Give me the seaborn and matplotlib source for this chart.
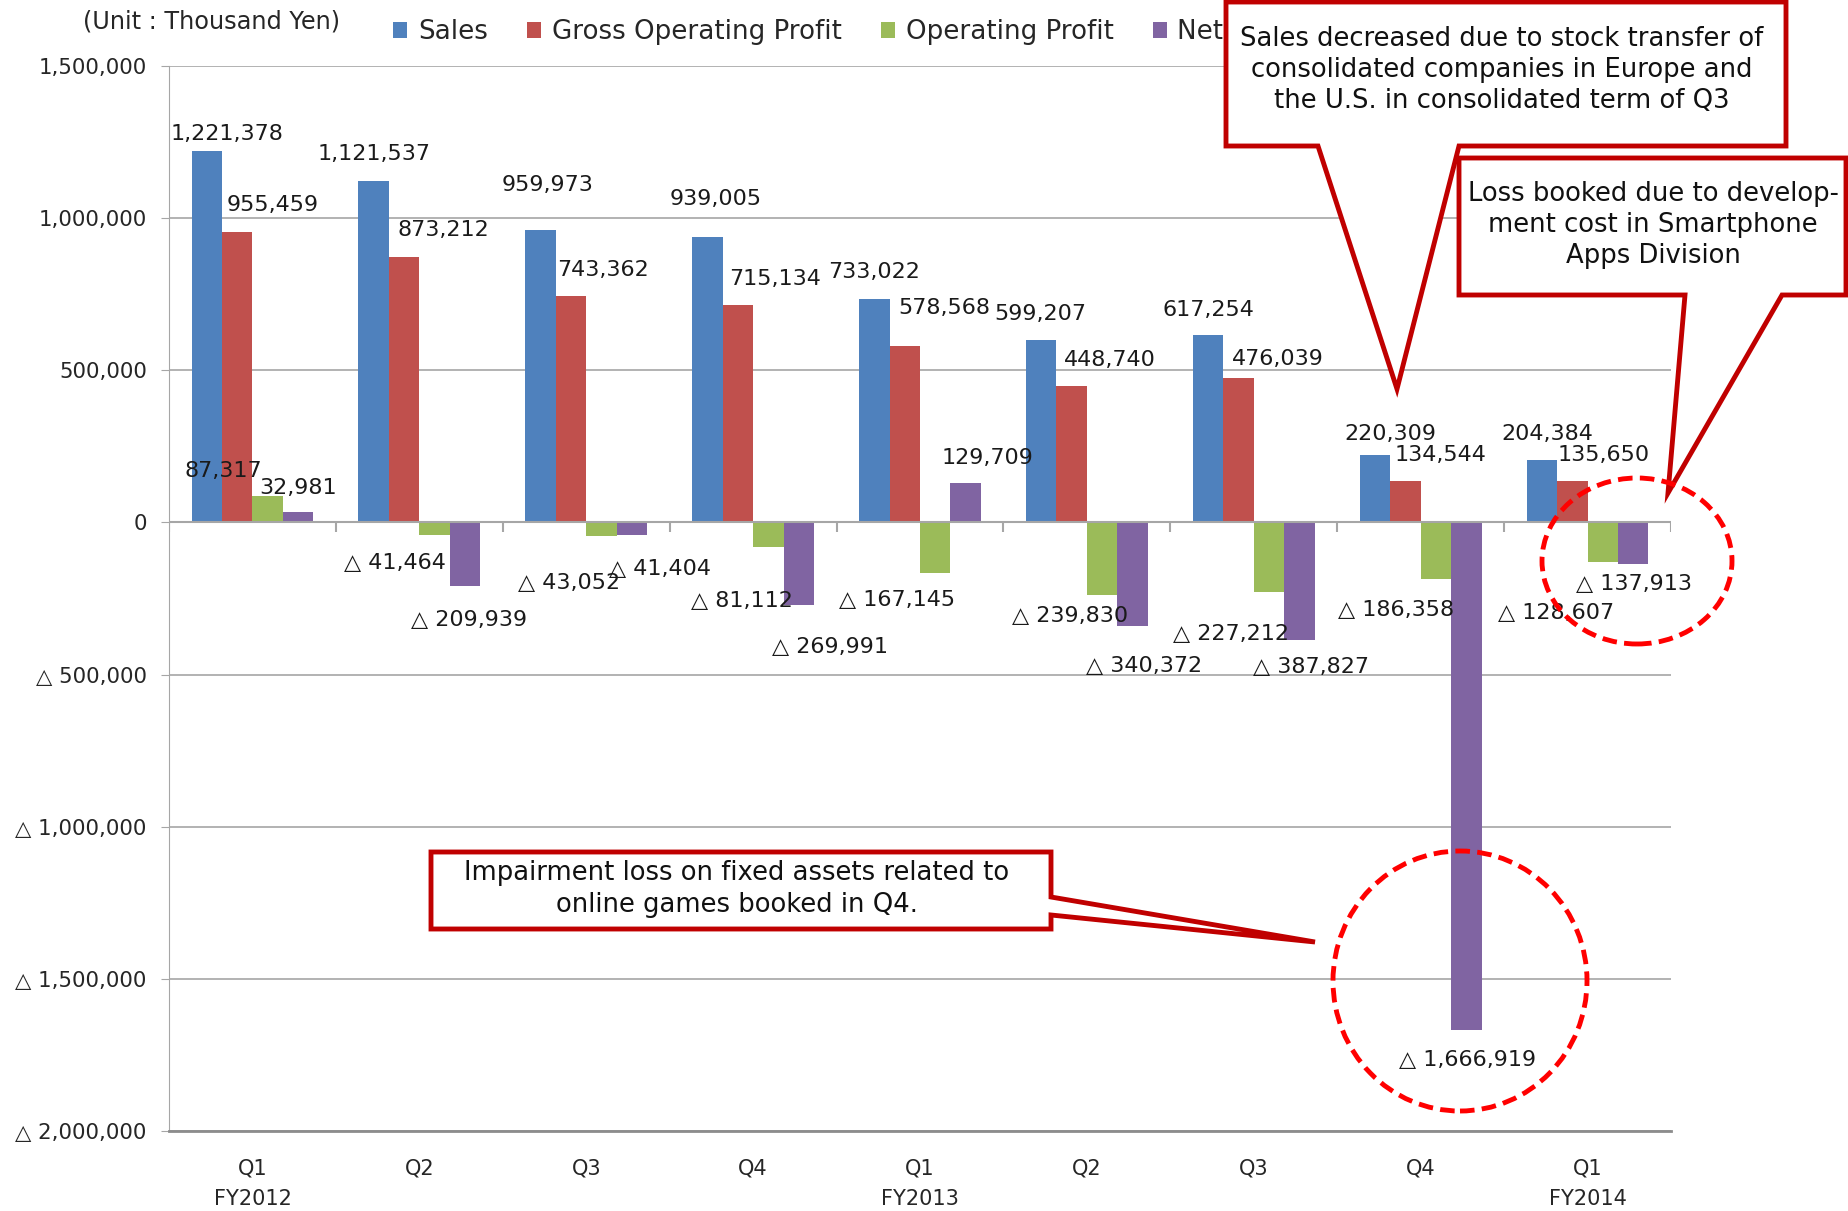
import matplotlib
matplotlib.use("Agg")
import matplotlib.pyplot as plt
from matplotlib.patches import Patch, Polygon, Ellipse
import pandas as pd
import seaborn as sns

periods = ["FY2012 Q1", "FY2012 Q2", "FY2012 Q3", "FY2012 Q4",
           "FY2013 Q1", "FY2013 Q2", "FY2013 Q3", "FY2013 Q4", "FY2014 Q1"]
tick_labels = ["Q1\nFY2012", "Q2", "Q3", "Q4", "Q1\nFY2013", "Q2", "Q3", "Q4", "Q1\nFY2014"]
series = ["Sales", "Gross Operating Profit", "Operating Profit", "Net Income"]

sales = [1221378, 1121537, 959973, 939005, 733022, 599207, 617254, 220309, 204384]
gross_profit = [955459, 873212, 743362, 715134, 578568, 448740, 476039, 134544, 135650]
operating_profit = [87317, -41464, -43052, -81112, -167145, -239830, -227212, -186358, -128607]
net_income = [32981, -209939, -41404, -269991, 129709, -340372, -387827, -1666919, -137913]

colors = ["#4F81BD", "#C0504D", "#9BBB59", "#8064A2"]

# label nudges (pixels) so the labels sit roughly where they are in the report
label_dx = [[20, 0, 7, 8, 0, -1, 0, 15, 5],
            [35, 39, 32, 37, 40, 38, 39, 35, 31],
            [-44, -40, -32, -26, -38, -32, -38, -40, -47],
            [0, 4, 28, 31, 22, 11, 12, 1, 1]]
label_dy = [[17, 27, 45, 38, 27, 26, 25, 21, 26],
            [27, 27, 26, 26, 38, 26, 19, 26, 26],
            [25, 28, 47, 54, 27, 21, 42, 31, 51],
            [24, 34, 34, 42, 25, 40, 27, 30, 20]]

values = [sales, gross_profit, operating_profit, net_income]
df = pd.DataFrame({
    "period": periods * 4,
    "series": [s for s in series for _ in periods],
    "value": [v for vals in values for v in vals],
})


def fmt(v):
    if v < 0:
        return "\u25b3 {:,.0f}".format(-v)
    return "{:,.0f}".format(v)


W, H = 1848, 1211


def fp(x, y):
    return (x / W, 1 - y / H)


sns.set_style("white")
plt.rcParams["font.family"] = ["DejaVu Sans"]

fig = plt.figure(figsize=(W / 100, H / 100), dpi=100)
ax = fig.add_axes([169 / W, 1 - 1131 / H, (1671 - 169) / W, (1131 - 66) / H])

sns.barplot(data=df, x="period", y="value", hue="series", order=periods, hue_order=series,
            palette=colors, saturation=1, width=0.73, gap=0, legend=False,
            linewidth=0, edgecolor="none", ax=ax)

ax.set_xlim(-0.5, len(periods) - 0.5)
ax.set_ylim(-2000000, 1500000)
ax.set_yticks(range(-2000000, 1500001, 500000))
ax.set_yticklabels([fmt(v) for v in range(-2000000, 1500001, 500000)], fontsize=15.3)
ax.set_xticks(range(len(periods)))
ax.set_xticklabels(tick_labels, fontsize=15, linespacing=1.65)
ax.set_xlabel("")
ax.set_ylabel("")

ax.yaxis.grid(True, color="#a6a6a6", lw=1.2)
ax.set_axisbelow(True)
for s in ["top", "right"]:
    ax.spines[s].set_visible(False)
ax.spines["left"].set_color("#a6a6a6")
ax.spines["bottom"].set_color("#8c8c8c")
ax.spines["bottom"].set_linewidth(2)
ax.tick_params(axis="y", length=6, color="#a6a6a6", pad=10, left=True)
ax.tick_params(axis="x", length=0, pad=20)

ax.axhline(0, color="#a6a6a6", lw=1.5, zorder=1)
ax.vlines([i - 0.5 for i in range(len(periods) + 1)], -33000, 0, color="#a6a6a6", lw=1.5)

for k, cont in enumerate(ax.containers):
    for j, bar in enumerate(cont):
        v = values[k][j]
        xc = bar.get_x() + bar.get_width() / 2
        dy = label_dy[k][j] if v >= 0 else -label_dy[k][j]
        ax.annotate(fmt(v), (xc, v), xytext=(label_dx[k][j], dy), textcoords="offset pixels",
                    ha="center", va="center", fontsize=16, color="#1a1a1a")

handles = [Patch(facecolor=c, edgecolor="none") for c in colors]
ax.legend(handles, series, loc="center left", bbox_to_anchor=fp(393, 32),
          bbox_transform=fig.transFigure, ncol=4, frameon=False, fontsize=18.8,
          handlelength=0.55, handleheight=0.55, handletextpad=0.4, columnspacing=1.5,
          borderpad=0, borderaxespad=0)

fig.text(*fp(212, 21), "(Unit : Thousand Yen)", ha="center", va="center", fontsize=17.3)

red = "#C00000"
callouts = [
    [(1226, 2), (1786, 2), (1786, 146), (1459, 146), (1397, 389), (1318, 146), (1226, 146)],
    [(1459, 158), (1846, 158), (1846, 295), (1782, 295), (1668, 493), (1685, 295), (1459, 295)],
    [(431, 852), (1051, 852), (1051, 897), (1315, 942), (1051, 915), (1051, 929), (431, 929)],
]
for pts in callouts:
    fig.add_artist(Polygon([fp(x, y) for x, y in pts], closed=True, facecolor="white",
                           edgecolor=red, lw=3.5, joinstyle="miter", transform=fig.transFigure,
                           zorder=5))

notes = [
    (1502, 70, "Sales decreased due to stock transfer of\nconsolidated companies in Europe and\nthe U.S. in consolidated term of Q3"),
    (1653, 225, "Loss booked due to develop-\nment cost in Smartphone\nApps Division"),
    (737, 889, "Impairment loss on fixed assets related to\nonline games booked in Q4."),
]
for x, y, t in notes:
    fig.text(*fp(x, y), t, ha="center", va="center", fontsize=18.6, linespacing=1.25,
             color="#111111", zorder=10)

for cx, cy, rx, ry in [(1460, 981, 127, 130), (1637, 561, 95, 83)]:
    fig.add_artist(Ellipse(fp(cx, cy), 2 * rx / W, 2 * ry / H, fill=False, edgecolor="#FF0000",
                           lw=3.5, linestyle=(0, (3, 1.5)), transform=fig.transFigure, zorder=6))

fig.savefig("out.png", dpi=100)
